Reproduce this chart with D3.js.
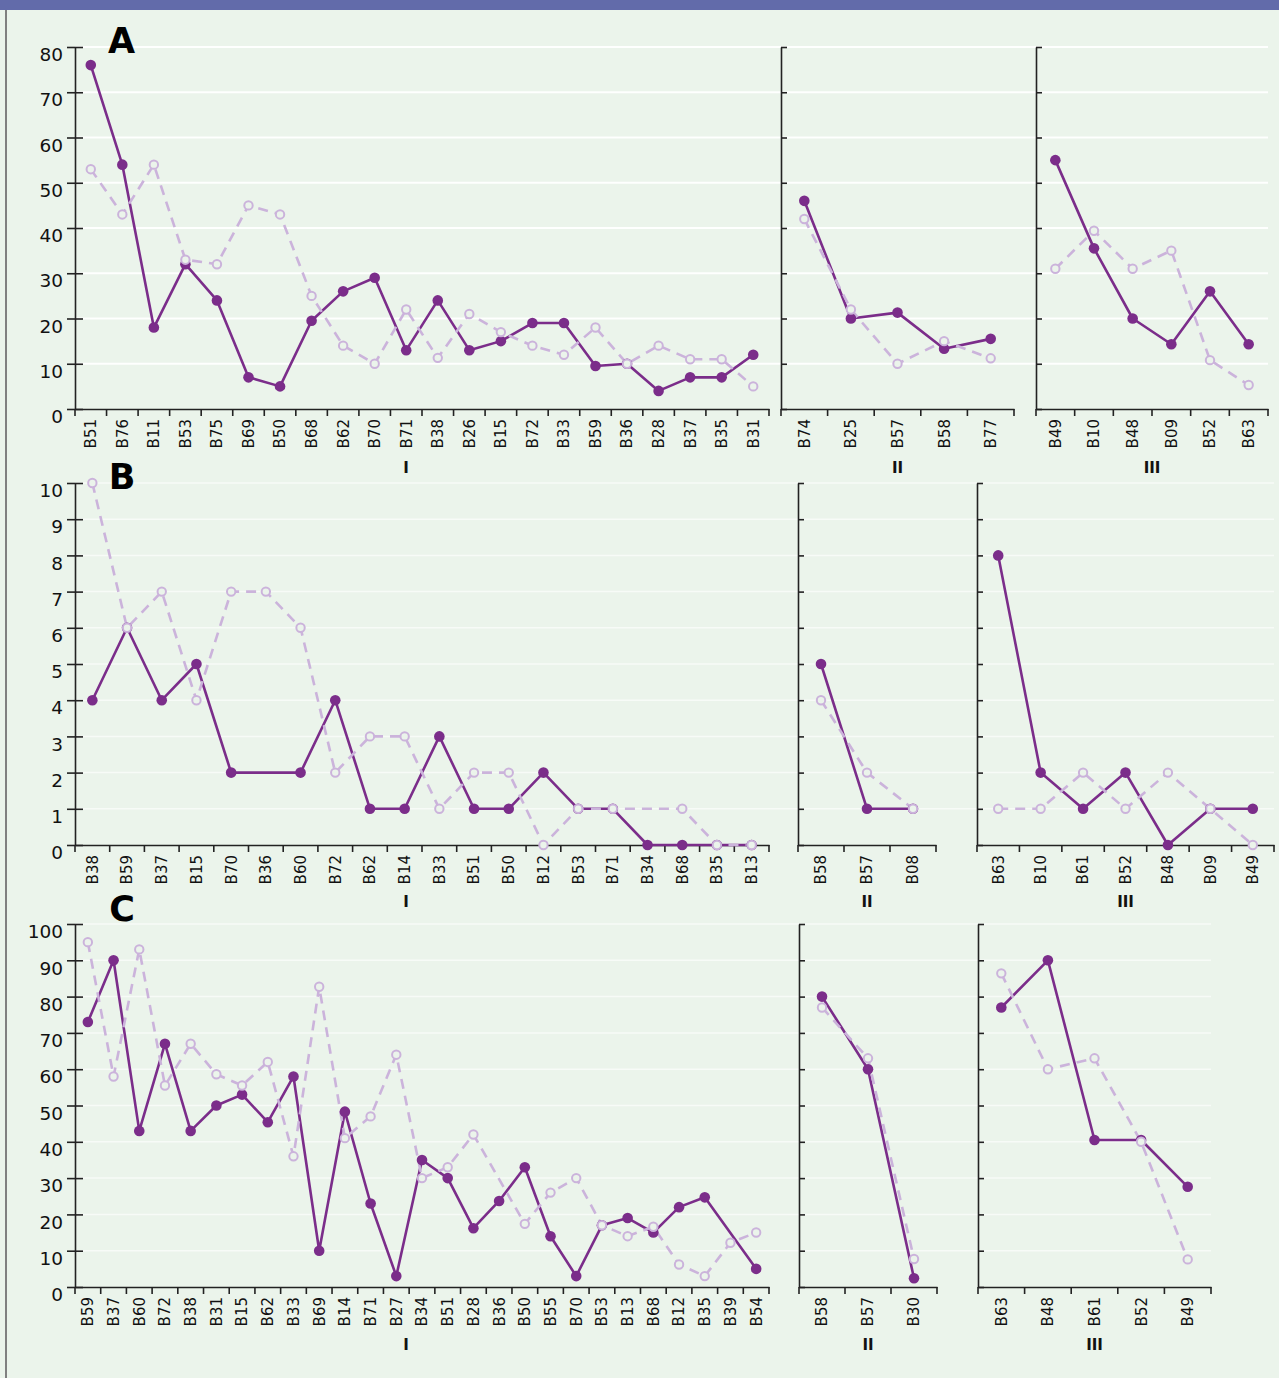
<!DOCTYPE html>
<html><head><meta charset="utf-8">
<script src="https://cdn.jsdelivr.net/npm/d3@7"></script>
<style>body{margin:0;background:#EBF4EB;} svg{display:block}</style>
</head><body>
<svg id="c" width="1279" height="1378"></svg>
<script>
// ---------------- DATA ----------------
const sectionNames = ["I", "II", "III"];

// Panel A
const aTicks = [0, 10, 20, 30, 40, 50, 60, 70, 80];
const aCatsI = ["B51","B76","B11","B53","B75","B69","B50","B68","B62","B70","B71","B38","B26","B15","B72","B33","B59","B36","B28","B37","B35","B31"];
const aSolidI = [76,54,18,32,24,7,5,19.5,26,29,13,24,13,15,19,19,9.5,10,4,7,7,12];
const aDashI  = [53,43,54,33,32,45,43,25,14,10,22,11.3,21,17,14,12,18,10,14,11,11,5];
const aCatsII = ["B74","B25","B57","B58","B77"];
const aSolidII = [46,20,21.3,13.3,15.5];
const aDashII  = [42,22,10,15,11.2];
const aCatsIII = ["B49","B10","B48","B09","B52","B63"];
const aSolidIII = [55,35.5,20,14.3,26,14.3];
const aDashIII  = [31,39.4,31,35,10.8,5.3];

// Panel B
const bTicks = [0,1,2,3,4,5,6,7,8,9,10];
const bCatsI = ["B38","B59","B37","B15","B70","B36","B60","B72","B62","B14","B33","B51","B50","B12","B53","B71","B34","B68","B35","B13"];
const bSolidI = [4,6,4,5,2,null,2,4,1,1,3,1,1,2,1,1,0,0,0,0];
const bDashI  = [10,6,7,4,7,7,6,2,3,3,1,2,2,0,1,1,null,1,0,0];
const bCatsII = ["B58","B57","B08"];
const bSolidII = [5,1,1];
const bDashII  = [4,2,1];
const bCatsIII = ["B63","B10","B61","B52","B48","B09","B49"];
const bSolidIII = [8,2,1,2,0,1,1];
const bDashIII  = [1,1,2,1,2,1,0];

// Panel C
const cTicks = [0,10,20,30,40,50,60,70,80,90,100];
const cCatsI = ["B59","B37","B60","B72","B38","B31","B15","B62","B33","B69","B14","B71","B27","B34","B51","B28","B36","B50","B55","B70","B53","B13","B68","B12","B35","B39","B54"];
const cSolidI = [73,90,43,67,43,50,53,45.4,58,10,48.3,23,3,35,30,16.2,23.7,33,14,3,17,19,15,22,24.7,null,5];
const cDashI  = [95,58,93,55.5,67,58.6,55.5,62,36,82.7,41,47,64,30,33,42,null,17.4,26,30,17,14,16.6,6.2,3,12.2,15];
const cCatsII = ["B58","B57","B30"];
const cSolidII = [80,60,2.4];
const cDashII  = [77,63,7.7];
const cCatsIII = ["B63","B48","B61","B52","B49"];
const cSolidIII = [77,90,40.5,40.5,27.6];
const cDashIII  = [86.4,60,63,40,7.6];

// ---------------- STYLE / LAYOUT ----------------
const BG = "#EBF4EB";
const DARK = "#7B2D8A";
const LIGHT = "#CBB3DB";
const FONT = "'DejaVu Sans', sans-serif";

const panels = [
  { letter: "A", ticks: aTicks, yTop: 47, yBot: 409, letterX: 121.5, letterY: 53, secY: 473, gridOp: 0.95, gridW: 2,
    ranges: [[75,769],[781,1014],[1036,1268]],
    sections: [[aCatsI,aSolidI,aDashI],[aCatsII,aSolidII,aDashII],[aCatsIII,aSolidIII,aDashIII]] },
  { letter: "B", ticks: bTicks, yTop: 483, yBot: 845, letterX: 122, letterY: 489, secY: 907, gridOp: 0.6, gridW: 1.5,
    ranges: [[75,769],[798,936],[977,1274]],
    sections: [[bCatsI,bSolidI,bDashI],[bCatsII,bSolidII,bDashII],[bCatsIII,bSolidIII,bDashIII]] },
  { letter: "C", ticks: cTicks, yTop: 924, yBot: 1287, letterX: 122, letterY: 921, secY: 1350, gridOp: 0.6, gridW: 1.5,
    ranges: [[75,769],[799,937],[978,1211]],
    sections: [[cCatsI,cSolidI,cDashI],[cCatsII,cSolidII,cDashII],[cCatsIII,cSolidIII,cDashIII]] }
];

const svg = d3.select("#c");
svg.append("rect").attr("width",1279).attr("height",1378).attr("fill",BG);
svg.append("rect").attr("x",0).attr("y",0).attr("width",1279).attr("height",10).attr("fill","#626BAA");
svg.append("line").attr("x1",6).attr("x2",6).attr("y1",10).attr("y2",1378).attr("stroke","#808080").attr("stroke-width",2);

panels.forEach(p => {
  const g = svg.append("g");
  const maxV = p.ticks[p.ticks.length-1];
  const y = d3.scaleLinear().domain([0, maxV]).range([p.yBot, p.yTop]);
  const xStart = p.ranges[0][0], xEnd = p.ranges[2][1];

  // gridlines
  g.append("g").selectAll("line").data(p.ticks.filter(t => t > 0)).join("line")
    .attr("x1", xStart).attr("x2", xEnd)
    .attr("y1", d => y(d)).attr("y2", d => y(d))
    .attr("stroke", "#fff").attr("stroke-opacity", p.gridOp).attr("stroke-width", p.gridW);

  // panel letter
  g.append("text").attr("x", p.letterX).attr("y", p.letterY).attr("text-anchor","middle")
    .attr("font-family", FONT).attr("font-weight", "bold").attr("font-size", 35).attr("fill","#000")
    .text(p.letter);

  p.sections.forEach((sec, si) => {
    const [cats, solid, dash] = sec;
    const [x0, x1] = p.ranges[si];
    const x = d3.scaleBand().domain(cats).range([x0, x1]).padding(0);
    const bw = x.bandwidth();
    const cx = c => x(c) + bw / 2;

    // y axis
    if (si === 0) {
      const ya = g.append("g").attr("transform", `translate(${x0},0)`)
        .call(d3.axisLeft(y).tickValues(p.ticks).tickSize(8).tickSizeOuter(0).tickPadding(4));
      ya.selectAll(".tick line").attr("x1", 8).attr("x2", -8);
      ya.selectAll(".tick text").attr("dy", "0.74em").attr("font-size", 18.5).attr("font-family", FONT).attr("fill","#111");
      ya.select(".domain").attr("stroke","#222").attr("stroke-width",1.6);
      ya.selectAll(".tick line").attr("stroke","#222").attr("stroke-width",1.6);
    } else {
      const ya = g.append("g").attr("transform", `translate(${x0},0)`)
        .call(d3.axisRight(y).tickValues(p.ticks).tickSize(6).tickSizeOuter(0).tickFormat(""));
      ya.select(".domain").attr("stroke","#222").attr("stroke-width",1.6);
      ya.selectAll(".tick line").attr("stroke","#222").attr("stroke-width",1.6);
    }

    // x axis
    const xa = g.append("g").attr("transform", `translate(0,${p.yBot})`)
      .call(d3.axisBottom(x).tickSize(0).tickSizeOuter(0));
    xa.select(".domain").attr("stroke","#222").attr("stroke-width",1.6);
    xa.selectAll(".tick text")
      .attr("transform","rotate(-90)").attr("text-anchor","end")
      .attr("x",-10).attr("y",0).attr("dy","0.36em")
      .attr("font-size",15).attr("font-family",FONT).attr("fill","#111");
    const bounds = cats.map(c => x(c)).concat([x(cats[cats.length-1]) + bw]);
    xa.append("g").selectAll("line").data(bounds).join("line")
      .attr("x1", d => d).attr("x2", d => d).attr("y1", 0).attr("y2", 7)
      .attr("stroke","#222").attr("stroke-width",1.6);

    // section label
    const secX = si === 0 ? (x0 + x1) / 2 - 16 : (x0 + x1) / 2;
    g.append("text").attr("x", secX).attr("y", p.secY).attr("text-anchor","middle")
      .attr("font-family", FONT).attr("font-weight","bold").attr("font-size",15).attr("fill","#111")
      .text(sectionNames[si]);

    const solidPts = cats.map((c,i) => ({c, v: solid[i]})).filter(d => d.v !== null);
    const dashPts = cats.map((c,i) => ({c, v: dash[i]})).filter(d => d.v !== null);
    const line = d3.line().x(d => cx(d.c)).y(d => y(d.v));

    g.append("path").datum(solidPts).attr("d", line).attr("fill","none")
      .attr("stroke", DARK).attr("stroke-width", 2.6).attr("stroke-linejoin","round");
    g.append("path").datum(dashPts).attr("d", line).attr("fill","none")
      .attr("stroke", LIGHT).attr("stroke-width", 2.6).attr("stroke-dasharray","10,7");
    g.append("g").selectAll("circle").data(solidPts).join("circle")
      .attr("cx", d => cx(d.c)).attr("cy", d => y(d.v)).attr("r", 5.3).attr("fill", DARK);
    g.append("g").selectAll("circle").data(dashPts).join("circle")
      .attr("cx", d => cx(d.c)).attr("cy", d => y(d.v)).attr("r", 4.2)
      .attr("fill", BG).attr("stroke", LIGHT).attr("stroke-width", 2);
  });
});
</script>
</body></html>
